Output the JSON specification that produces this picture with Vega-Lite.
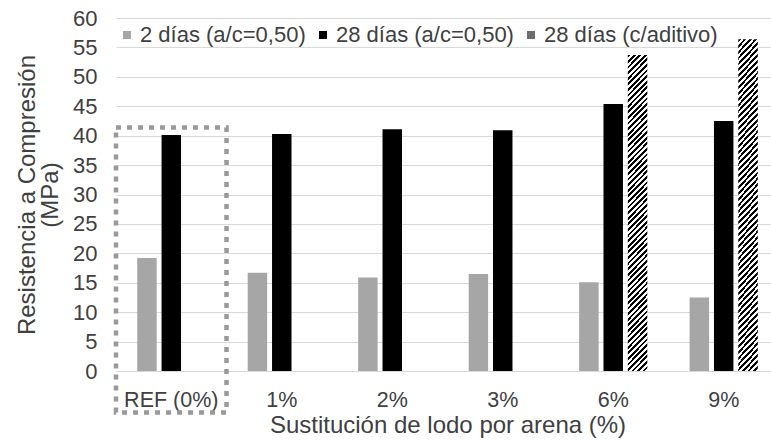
{
  "$schema": "https://vega.github.io/schema/vega-lite/v6.json",
  "width": 663,
  "height": 353,
  "autosize": {"type": "none"},
  "padding": {"left": 116, "top": 18, "right": 0, "bottom": 71},
  "background": "white",
  "config": {
    "font": "Liberation Sans",
    "view": {"stroke": null}
  },
  "layer": [
    {
      "data": {
        "values": [
          {"cat": "REF (0%)", "serie": "2 días (a/c=0,50)", "v": 19.2},
          {"cat": "REF (0%)", "serie": "28 días (a/c=0,50)", "v": 40.1},
          {"cat": "1%", "serie": "2 días (a/c=0,50)", "v": 16.7},
          {"cat": "1%", "serie": "28 días (a/c=0,50)", "v": 40.3},
          {"cat": "2%", "serie": "2 días (a/c=0,50)", "v": 15.9},
          {"cat": "2%", "serie": "28 días (a/c=0,50)", "v": 41.1},
          {"cat": "3%", "serie": "2 días (a/c=0,50)", "v": 16.5},
          {"cat": "3%", "serie": "28 días (a/c=0,50)", "v": 40.9},
          {"cat": "6%", "serie": "2 días (a/c=0,50)", "v": 15.1},
          {"cat": "6%", "serie": "28 días (a/c=0,50)", "v": 45.4},
          {"cat": "6%", "serie": "28 días (c/aditivo)", "v": 53.7},
          {"cat": "9%", "serie": "2 días (a/c=0,50)", "v": 12.5},
          {"cat": "9%", "serie": "28 días (a/c=0,50)", "v": 42.5},
          {"cat": "9%", "serie": "28 días (c/aditivo)", "v": 56.4}
        ]
      },
      "mark": {"type": "bar"},
      "encoding": {
        "x": {
          "field": "cat",
          "type": "nominal",
          "sort": ["REF (0%)", "1%", "2%", "3%", "6%", "9%"],
          "scale": {"paddingInner": 0.339, "paddingOuter": 0.17},
          "axis": {
            "labelAngle": 0,
            "ticks": false,
            "domain": false,
            "grid": false,
            "labelFontSize": 21.5,
            "labelColor": "#404040",
            "labelPadding": 18,
            "title": "Sustitución de lodo por arena (%)",
            "titleFontSize": 24,
            "titleFontWeight": "normal",
            "titleColor": "#404040",
            "titlePadding": 3
          }
        },
        "xOffset": {
          "field": "serie",
          "type": "nominal",
          "scale": {
            "domain": ["2 días (a/c=0,50)", "28 días (a/c=0,50)", "28 días (c/aditivo)"],
            "paddingInner": 0.2,
            "paddingOuter": 0.1
          }
        },
        "y": {
          "field": "v",
          "type": "quantitative",
          "scale": {"domain": [0, 60], "nice": false},
          "axis": {
            "title": ["Resistencia a Compresión", "(MPa)"],
            "tickCount": 12,
            "ticks": false,
            "domain": false,
            "gridColor": "#d9d9d9",
            "gridWidth": 1.2,
            "labelFontSize": 22,
            "labelColor": "#404040",
            "labelPadding": 19,
            "titleFontSize": 24,
            "titleFontWeight": "normal",
            "titleColor": "#404040",
            "titlePadding": 10,
            "titleLineHeight": 23
          }
        },
        "color": {
          "condition": {
            "test": "datum.serie === '28 días (c/aditivo)'",
            "value": {
              "gradient": "linear",
              "x1": 0, "y1": 0, "x2": 0.067, "y2": 1.06,
              "stops": [
                {"offset": 0, "color": "#000"}, {"offset": 0.0083, "color": "#000"}, {"offset": 0.0083, "color": "#fff"}, {"offset": 0.0167, "color": "#fff"},
                {"offset": 0.0167, "color": "#000"}, {"offset": 0.025, "color": "#000"}, {"offset": 0.025, "color": "#fff"}, {"offset": 0.0333, "color": "#fff"},
                {"offset": 0.0333, "color": "#000"}, {"offset": 0.0417, "color": "#000"}, {"offset": 0.0417, "color": "#fff"}, {"offset": 0.05, "color": "#fff"},
                {"offset": 0.05, "color": "#000"}, {"offset": 0.0583, "color": "#000"}, {"offset": 0.0583, "color": "#fff"}, {"offset": 0.0667, "color": "#fff"},
                {"offset": 0.0667, "color": "#000"}, {"offset": 0.075, "color": "#000"}, {"offset": 0.075, "color": "#fff"}, {"offset": 0.0833, "color": "#fff"},
                {"offset": 0.0833, "color": "#000"}, {"offset": 0.0917, "color": "#000"}, {"offset": 0.0917, "color": "#fff"}, {"offset": 0.1, "color": "#fff"},
                {"offset": 0.1, "color": "#000"}, {"offset": 0.1083, "color": "#000"}, {"offset": 0.1083, "color": "#fff"}, {"offset": 0.1167, "color": "#fff"},
                {"offset": 0.1167, "color": "#000"}, {"offset": 0.125, "color": "#000"}, {"offset": 0.125, "color": "#fff"}, {"offset": 0.1333, "color": "#fff"},
                {"offset": 0.1333, "color": "#000"}, {"offset": 0.1417, "color": "#000"}, {"offset": 0.1417, "color": "#fff"}, {"offset": 0.15, "color": "#fff"},
                {"offset": 0.15, "color": "#000"}, {"offset": 0.1583, "color": "#000"}, {"offset": 0.1583, "color": "#fff"}, {"offset": 0.1667, "color": "#fff"},
                {"offset": 0.1667, "color": "#000"}, {"offset": 0.175, "color": "#000"}, {"offset": 0.175, "color": "#fff"}, {"offset": 0.1833, "color": "#fff"},
                {"offset": 0.1833, "color": "#000"}, {"offset": 0.1917, "color": "#000"}, {"offset": 0.1917, "color": "#fff"}, {"offset": 0.2, "color": "#fff"},
                {"offset": 0.2, "color": "#000"}, {"offset": 0.2083, "color": "#000"}, {"offset": 0.2083, "color": "#fff"}, {"offset": 0.2167, "color": "#fff"},
                {"offset": 0.2167, "color": "#000"}, {"offset": 0.225, "color": "#000"}, {"offset": 0.225, "color": "#fff"}, {"offset": 0.2333, "color": "#fff"},
                {"offset": 0.2333, "color": "#000"}, {"offset": 0.2417, "color": "#000"}, {"offset": 0.2417, "color": "#fff"}, {"offset": 0.25, "color": "#fff"},
                {"offset": 0.25, "color": "#000"}, {"offset": 0.2583, "color": "#000"}, {"offset": 0.2583, "color": "#fff"}, {"offset": 0.2667, "color": "#fff"},
                {"offset": 0.2667, "color": "#000"}, {"offset": 0.275, "color": "#000"}, {"offset": 0.275, "color": "#fff"}, {"offset": 0.2833, "color": "#fff"},
                {"offset": 0.2833, "color": "#000"}, {"offset": 0.2917, "color": "#000"}, {"offset": 0.2917, "color": "#fff"}, {"offset": 0.3, "color": "#fff"},
                {"offset": 0.3, "color": "#000"}, {"offset": 0.3083, "color": "#000"}, {"offset": 0.3083, "color": "#fff"}, {"offset": 0.3167, "color": "#fff"},
                {"offset": 0.3167, "color": "#000"}, {"offset": 0.325, "color": "#000"}, {"offset": 0.325, "color": "#fff"}, {"offset": 0.3333, "color": "#fff"},
                {"offset": 0.3333, "color": "#000"}, {"offset": 0.3417, "color": "#000"}, {"offset": 0.3417, "color": "#fff"}, {"offset": 0.35, "color": "#fff"},
                {"offset": 0.35, "color": "#000"}, {"offset": 0.3583, "color": "#000"}, {"offset": 0.3583, "color": "#fff"}, {"offset": 0.3667, "color": "#fff"},
                {"offset": 0.3667, "color": "#000"}, {"offset": 0.375, "color": "#000"}, {"offset": 0.375, "color": "#fff"}, {"offset": 0.3833, "color": "#fff"},
                {"offset": 0.3833, "color": "#000"}, {"offset": 0.3917, "color": "#000"}, {"offset": 0.3917, "color": "#fff"}, {"offset": 0.4, "color": "#fff"},
                {"offset": 0.4, "color": "#000"}, {"offset": 0.4083, "color": "#000"}, {"offset": 0.4083, "color": "#fff"}, {"offset": 0.4167, "color": "#fff"},
                {"offset": 0.4167, "color": "#000"}, {"offset": 0.425, "color": "#000"}, {"offset": 0.425, "color": "#fff"}, {"offset": 0.4333, "color": "#fff"},
                {"offset": 0.4333, "color": "#000"}, {"offset": 0.4417, "color": "#000"}, {"offset": 0.4417, "color": "#fff"}, {"offset": 0.45, "color": "#fff"},
                {"offset": 0.45, "color": "#000"}, {"offset": 0.4583, "color": "#000"}, {"offset": 0.4583, "color": "#fff"}, {"offset": 0.4667, "color": "#fff"},
                {"offset": 0.4667, "color": "#000"}, {"offset": 0.475, "color": "#000"}, {"offset": 0.475, "color": "#fff"}, {"offset": 0.4833, "color": "#fff"},
                {"offset": 0.4833, "color": "#000"}, {"offset": 0.4917, "color": "#000"}, {"offset": 0.4917, "color": "#fff"}, {"offset": 0.5, "color": "#fff"},
                {"offset": 0.5, "color": "#000"}, {"offset": 0.5083, "color": "#000"}, {"offset": 0.5083, "color": "#fff"}, {"offset": 0.5167, "color": "#fff"},
                {"offset": 0.5167, "color": "#000"}, {"offset": 0.525, "color": "#000"}, {"offset": 0.525, "color": "#fff"}, {"offset": 0.5333, "color": "#fff"},
                {"offset": 0.5333, "color": "#000"}, {"offset": 0.5417, "color": "#000"}, {"offset": 0.5417, "color": "#fff"}, {"offset": 0.55, "color": "#fff"},
                {"offset": 0.55, "color": "#000"}, {"offset": 0.5583, "color": "#000"}, {"offset": 0.5583, "color": "#fff"}, {"offset": 0.5667, "color": "#fff"},
                {"offset": 0.5667, "color": "#000"}, {"offset": 0.575, "color": "#000"}, {"offset": 0.575, "color": "#fff"}, {"offset": 0.5833, "color": "#fff"},
                {"offset": 0.5833, "color": "#000"}, {"offset": 0.5917, "color": "#000"}, {"offset": 0.5917, "color": "#fff"}, {"offset": 0.6, "color": "#fff"},
                {"offset": 0.6, "color": "#000"}, {"offset": 0.6083, "color": "#000"}, {"offset": 0.6083, "color": "#fff"}, {"offset": 0.6167, "color": "#fff"},
                {"offset": 0.6167, "color": "#000"}, {"offset": 0.625, "color": "#000"}, {"offset": 0.625, "color": "#fff"}, {"offset": 0.6333, "color": "#fff"},
                {"offset": 0.6333, "color": "#000"}, {"offset": 0.6417, "color": "#000"}, {"offset": 0.6417, "color": "#fff"}, {"offset": 0.65, "color": "#fff"},
                {"offset": 0.65, "color": "#000"}, {"offset": 0.6583, "color": "#000"}, {"offset": 0.6583, "color": "#fff"}, {"offset": 0.6667, "color": "#fff"},
                {"offset": 0.6667, "color": "#000"}, {"offset": 0.675, "color": "#000"}, {"offset": 0.675, "color": "#fff"}, {"offset": 0.6833, "color": "#fff"},
                {"offset": 0.6833, "color": "#000"}, {"offset": 0.6917, "color": "#000"}, {"offset": 0.6917, "color": "#fff"}, {"offset": 0.7, "color": "#fff"},
                {"offset": 0.7, "color": "#000"}, {"offset": 0.7083, "color": "#000"}, {"offset": 0.7083, "color": "#fff"}, {"offset": 0.7167, "color": "#fff"},
                {"offset": 0.7167, "color": "#000"}, {"offset": 0.725, "color": "#000"}, {"offset": 0.725, "color": "#fff"}, {"offset": 0.7333, "color": "#fff"},
                {"offset": 0.7333, "color": "#000"}, {"offset": 0.7417, "color": "#000"}, {"offset": 0.7417, "color": "#fff"}, {"offset": 0.75, "color": "#fff"},
                {"offset": 0.75, "color": "#000"}, {"offset": 0.7583, "color": "#000"}, {"offset": 0.7583, "color": "#fff"}, {"offset": 0.7667, "color": "#fff"},
                {"offset": 0.7667, "color": "#000"}, {"offset": 0.775, "color": "#000"}, {"offset": 0.775, "color": "#fff"}, {"offset": 0.7833, "color": "#fff"},
                {"offset": 0.7833, "color": "#000"}, {"offset": 0.7917, "color": "#000"}, {"offset": 0.7917, "color": "#fff"}, {"offset": 0.8, "color": "#fff"},
                {"offset": 0.8, "color": "#000"}, {"offset": 0.8083, "color": "#000"}, {"offset": 0.8083, "color": "#fff"}, {"offset": 0.8167, "color": "#fff"},
                {"offset": 0.8167, "color": "#000"}, {"offset": 0.825, "color": "#000"}, {"offset": 0.825, "color": "#fff"}, {"offset": 0.8333, "color": "#fff"},
                {"offset": 0.8333, "color": "#000"}, {"offset": 0.8417, "color": "#000"}, {"offset": 0.8417, "color": "#fff"}, {"offset": 0.85, "color": "#fff"},
                {"offset": 0.85, "color": "#000"}, {"offset": 0.8583, "color": "#000"}, {"offset": 0.8583, "color": "#fff"}, {"offset": 0.8667, "color": "#fff"},
                {"offset": 0.8667, "color": "#000"}, {"offset": 0.875, "color": "#000"}, {"offset": 0.875, "color": "#fff"}, {"offset": 0.8833, "color": "#fff"},
                {"offset": 0.8833, "color": "#000"}, {"offset": 0.8917, "color": "#000"}, {"offset": 0.8917, "color": "#fff"}, {"offset": 0.9, "color": "#fff"},
                {"offset": 0.9, "color": "#000"}, {"offset": 0.9083, "color": "#000"}, {"offset": 0.9083, "color": "#fff"}, {"offset": 0.9167, "color": "#fff"},
                {"offset": 0.9167, "color": "#000"}, {"offset": 0.925, "color": "#000"}, {"offset": 0.925, "color": "#fff"}, {"offset": 0.9333, "color": "#fff"},
                {"offset": 0.9333, "color": "#000"}, {"offset": 0.9417, "color": "#000"}, {"offset": 0.9417, "color": "#fff"}, {"offset": 0.95, "color": "#fff"},
                {"offset": 0.95, "color": "#000"}, {"offset": 0.9583, "color": "#000"}, {"offset": 0.9583, "color": "#fff"}, {"offset": 0.9667, "color": "#fff"},
                {"offset": 0.9667, "color": "#000"}, {"offset": 0.975, "color": "#000"}, {"offset": 0.975, "color": "#fff"}, {"offset": 0.9833, "color": "#fff"},
                {"offset": 0.9833, "color": "#000"}, {"offset": 0.9917, "color": "#000"}, {"offset": 0.9917, "color": "#fff"}, {"offset": 1, "color": "#fff"}
              ]
            }
          },
          "field": "serie",
          "type": "nominal",
          "scale": {
            "domain": ["2 días (a/c=0,50)", "28 días (a/c=0,50)", "28 días (c/aditivo)"],
            "range": ["#a6a6a6", "#000000", "#6e6e6e"]
          },
          "legend": {
            "orient": "none",
            "legendX": 0,
            "legendY": 6,
            "direction": "horizontal",
            "title": null,
            "symbolType": "square",
            "symbolSize": 64,
            "symbolStrokeWidth": 0,
            "labelFontSize": 22,
            "labelColor": "#404040",
            "labelOffset": 2,
            "labelLimit": 0,
            "columnPadding": 6,
            "padding": 0
          }
        }
      }
    },
    {
      "data": {"values": [{"cat": "REF (0%)", "top": 41.4, "bottom": -7.05}]},
      "mark": {
        "type": "rect",
        "fill": "transparent",
        "stroke": "#999999",
        "strokeWidth": 4.5,
        "strokeDash": [5, 6],
        "clip": false
      },
      "encoding": {
        "x": {
          "field": "cat",
          "type": "nominal",
          "scale": {
            "domain": ["REF (0%)", "1%", "2%", "3%", "6%", "9%"],
            "paddingInner": 0,
            "paddingOuter": 0
          },
          "axis": null
        },
        "y": {"field": "top", "type": "quantitative", "scale": {"domain": [0, 60], "nice": false}},
        "y2": {"field": "bottom"}
      }
    }
  ],
  "resolve": {"scale": {"x": "independent"}}
}
